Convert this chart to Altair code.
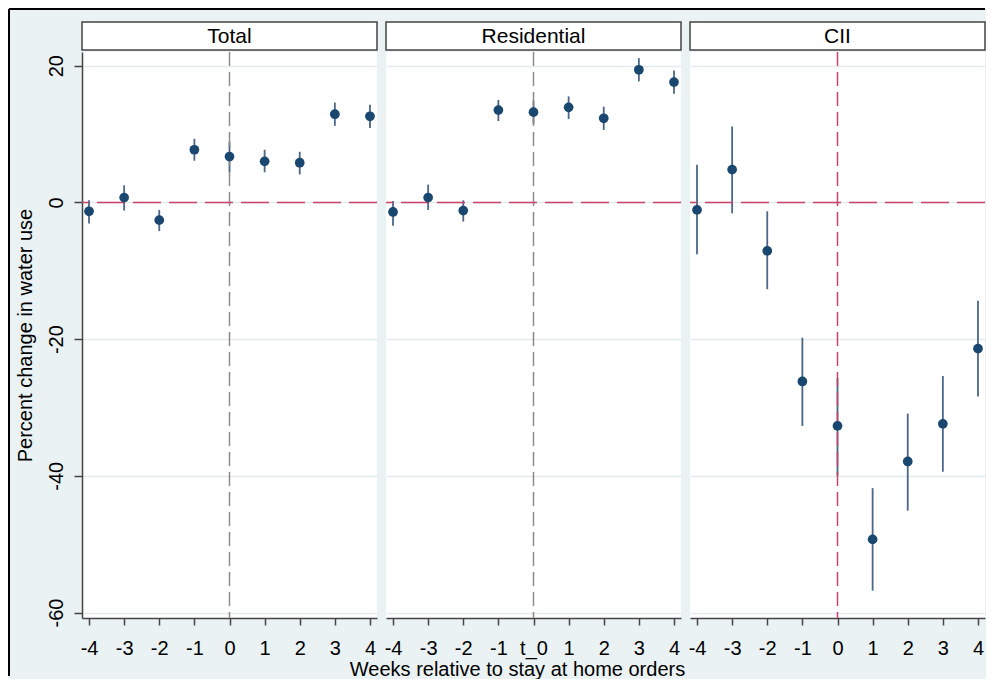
import altair as alt
import pandas as pd

weeks = [-4, -3, -2, -1, 0, 1, 2, 3, 4]

total_est = [-1.3, 0.7, -2.6, 7.7, 6.7, 6.0, 5.8, 12.9, 12.6]
total_lo = [-3.1, -1.2, -4.2, 6.1, 4.4, 4.4, 4.1, 11.2, 10.9]
total_hi = [0.3, 2.5, -1.1, 9.3, 8.9, 7.7, 7.4, 14.6, 14.3]

res_est = [-1.4, 0.7, -1.2, 13.5, 13.2, 13.9, 12.3, 19.4, 17.6]
res_lo = [-3.4, -1.1, -2.8, 11.9, 11.5, 12.2, 10.6, 17.7, 15.9]
res_hi = [0.2, 2.6, 0.3, 15.0, 14.9, 15.5, 14.0, 21.1, 19.3]

cii_est = [-1.1, 4.8, -7.1, -26.2, -32.7, -49.3, -37.9, -32.4, -21.4]
cii_lo = [-7.6, -1.6, -12.7, -32.7, -40.0, -56.8, -45.1, -39.4, -28.4]
cii_hi = [5.5, 11.1, -1.3, -19.8, -25.7, -41.8, -30.9, -25.4, -14.4]

panels = ["Total", "Residential", "CII"]
y_ticks = [20, 0, -20, -40, -60]

FONT = "Liberation Sans"
NAVY = "#1a476f"
CI_COL = "#4a6688"
RED = "#c94368"
GRAY = "#8c8c8c"
AXC = "#444444"
W = 295
H = 566

xscale = alt.Scale(domain=[-4.2, 4.2], nice=False, zero=False)
yscale = alt.Scale(domain=[-60.8, 22], nice=False, zero=False)


def panel(idx, name, est, lo, hi):
    df = pd.DataFrame({"week": weeks, "est": est, "lo": lo, "hi": hi})
    one = pd.DataFrame({"panel": [name]})

    if idx == 0:
        yaxis = alt.Axis(values=y_ticks, labelExpr="'' + datum.value",
                         labelAngle=270, labelAlign="center",
                         labelBaseline="bottom", labelFontSize=20, labelColor="black",
                         labelOverlap=False,
                         tickSize=8, tickColor=AXC, tickWidth=1.5, labelPadding=8,
                         domain=True, domainColor=AXC, domainWidth=1.5,
                         grid=True, gridColor="#e3ebee", gridWidth=1.5,
                         title="Percent change in water use", titleFontSize=20,
                         titleFontWeight="normal", titleColor="black", titlePadding=11)
        ytitle = "Percent change in water use"
    else:
        yaxis = alt.Axis(values=y_ticks, labels=False, ticks=False, domain=False,
                         grid=True, gridColor="#e3ebee", gridWidth=1.5)
        ytitle = ""

    xkw = dict(values=weeks, labelExpr="'' + datum.value", labelFontSize=20,
               labelColor="black", labelOverlap=False, labelSeparation=0,
               tickSize=7, tickColor=AXC, tickWidth=1.5, labelPadding=13,
               domainColor=AXC, domainWidth=1.5, grid=False, labelFlush=False)
    if idx == 1:
        xkw.update(labelExpr="datum.value == 0 ? 't_0' : '' + datum.value",
                   title="Weeks relative to stay at home orders", titleFontSize=20,
                   titleFontWeight="normal", titleColor="black", titlePadding=1,
                   titleX=131, titleAlign="center")
        xtitle = "Weeks relative to stay at home orders"
    else:
        xtitle = ""
    xaxis = alt.Axis(**xkw)

    base = alt.Chart(df)
    ci = base.mark_rule(color=CI_COL, strokeWidth=1.8).encode(
        x=alt.X("week:Q", scale=xscale, axis=xaxis, title=xtitle),
        y=alt.Y("lo:Q", scale=yscale, axis=yaxis, title=ytitle),
        y2="hi:Q",
    )
    pts = base.mark_circle(color=NAVY, size=95, opacity=1).encode(
        x=alt.X("week:Q", scale=xscale, axis=xaxis, title=xtitle),
        y=alt.Y("est:Q", scale=yscale, axis=yaxis, title=ytitle),
    )
    vcol = RED if name == "CII" else GRAY
    vline = alt.Chart(one).mark_rule(color=vcol, strokeWidth=1.5, strokeDash=[14, 6]).encode(
        x=alt.X(datum=0, scale=xscale, axis=xaxis, title=xtitle)
    )
    hline = alt.Chart(one).mark_rule(color=RED, strokeWidth=1.5, strokeDash=[28, 8]).encode(
        y=alt.Y(datum=0, scale=yscale, axis=yaxis, title=ytitle)
    )
    head_box = alt.Chart(one).mark_rect(fill="white", stroke=AXC, strokeWidth=1.5).encode(
        x=alt.value(0), x2=alt.value(W), y=alt.value(-30), y2=alt.value(-2)
    )
    head_txt = alt.Chart(one).mark_text(font=FONT, fontSize=21, color="black",
                                        baseline="middle", align="center").encode(
        x=alt.value(W / 2), y=alt.value(-15), text="panel:N"
    )
    layers = [ci, vline, hline, pts, head_box, head_txt]
    if idx == 0:
        vborder = alt.Chart(one).mark_rule(color="black", strokeWidth=2).encode(
            x=alt.value(-73), y=alt.value(-43), y2=alt.value(624)
        )
        hborder = alt.Chart(one).mark_rule(color="black", strokeWidth=2).encode(
            x=alt.value(-73), x2=alt.value(3 * W + 18), y=alt.value(-43)
        )
        layers += [vborder, hborder]
    return alt.layer(*layers).properties(width=W, height=H)


p1 = panel(0, "Total", total_est, total_lo, total_hi)
p2 = panel(1, "Residential", res_est, res_lo, res_hi)
p3 = panel(2, "CII", cii_est, cii_lo, cii_hi)

chart = alt.hconcat(p1, p2, p3, spacing=9, bounds="flush").properties(
    padding=0, background="#eaf2f3"
).configure_view(fill="white", strokeWidth=0).configure_axis(
    labelFont=FONT, titleFont=FONT, labelOverlap=False
).configure_text(font=FONT)

chart.save("out.html", embed_options={"renderer": "svg", "actions": False})
